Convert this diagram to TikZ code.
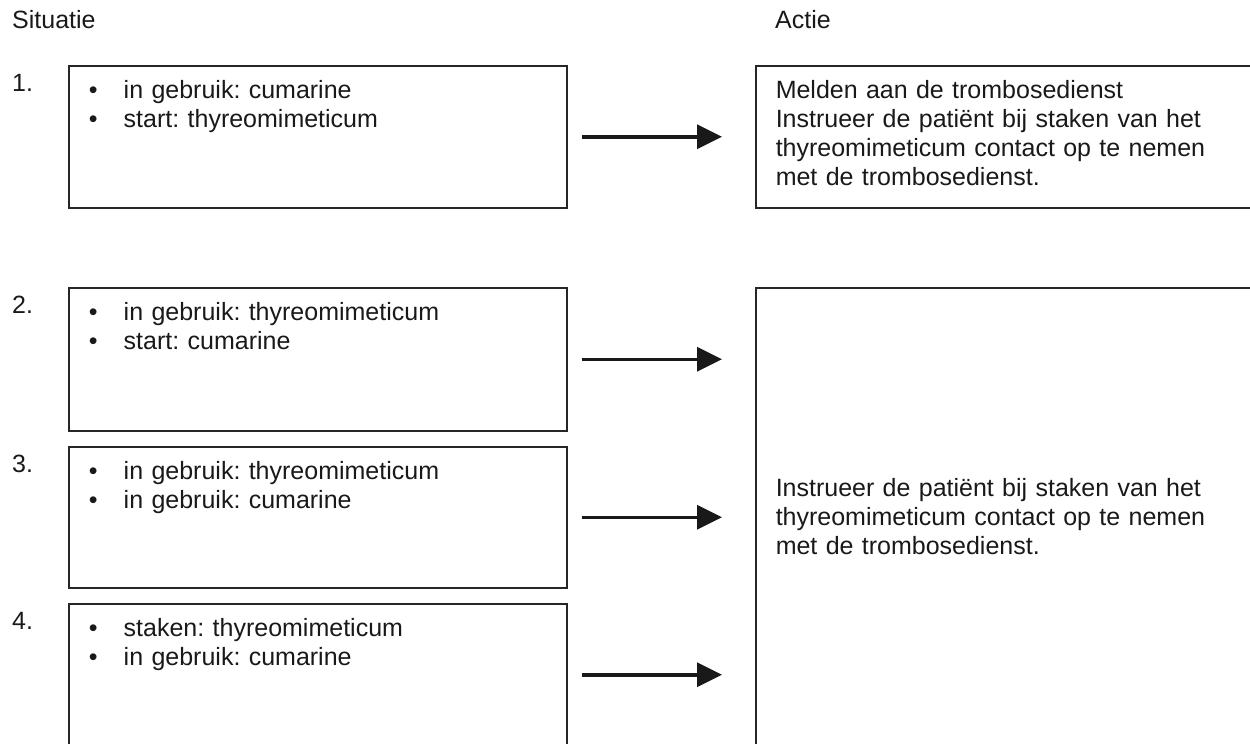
\documentclass[tikz,border=0pt]{standalone}
\usepackage{fontspec}
\setmainfont{Liberation Sans}
\usetikzlibrary{arrows.meta}
\frenchspacing
\newcommand{\punt}{\makebox[35pt][l]{\textbullet}}

\begin{document}
\begin{tikzpicture}
[x=1pt,y=-1pt,every node/.style={font=\fontsize{25}{29}\selectfont,text=black!90},
vak/.style={draw=black!85,line width=1.5pt,anchor=north west,align=left,inner xsep=20pt,inner ysep=14pt},
kop/.style={anchor=base west,inner sep=0pt},
pijl/.style={draw=black!90,line width=3.5pt,-{Triangle[length=25pt,width=24pt]}}]
\path[use as bounding box,clip] (0,0) rectangle (1250,744);
\node[kop] (sit) at (12,28) {Situatie};
\node[kop] (act) at (775,28) {Actie};
\node[vak,text width=458pt,text height=19pt,text depth=95pt] (sit1) at (68,65) {\punt in gebruik: cumarine\\\punt start: thyreomimeticum};
\node[vak,text width=458pt,text height=19pt,text depth=96pt] (sit2) at (68,287) {\punt in gebruik: thyreomimeticum\\\punt start: cumarine};
\node[vak,text width=458pt,text height=19pt,text depth=94pt] (sit3) at (68,446) {\punt in gebruik: thyreomimeticum\\\punt in gebruik: cumarine};
\node[vak,text width=458pt,text height=19pt,text depth=95pt] (sit4) at (68,603) {\punt staken: thyreomimeticum\\\punt in gebruik: cumarine};
\node[vak,text width=480pt,text height=19pt,text depth=95pt] (act1) at (755,65) {Melden aan de trombosedienst\\Instrueer de patiënt bij staken van het\\thyreomimeticum contact op te nemen\\met de trombosedienst.};
\node[vak,text width=480pt,text height=195pt,text depth=300pt] (act2) at (755,287) {Instrueer de patiënt bij staken van het\\thyreomimeticum contact op te nemen\\met de trombosedienst.};
\foreach \i in {1,...,4}
\node[kop] (nr\i) at ([shift={(-56,26)}]sit\i.north west) {\i.};
\foreach \i in {1,...,4}
\draw[pijl] ([xshift=14pt]sit\i.east) -- ([xshift=-33pt]act1.west |- sit\i.east);
\end{tikzpicture}
\end{document}
